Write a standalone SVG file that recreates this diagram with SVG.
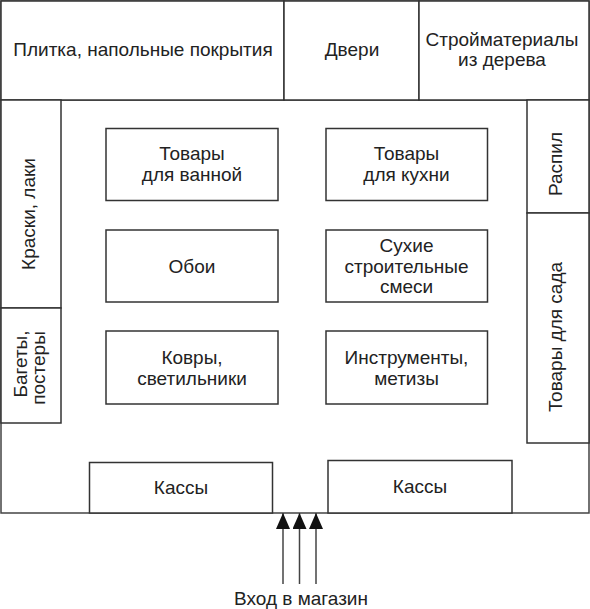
<svg xmlns="http://www.w3.org/2000/svg" width="590" height="609" viewBox="0 0 590 609">
<defs>
<style>
.b{fill:#fff;stroke:#333;stroke-width:1.5}
.l{fill:none;stroke:#444;stroke-width:1.5}
text{font-family:"Liberation Sans",Arial,sans-serif;font-size:19px;fill:#222;text-anchor:middle}
.ah{fill:#111}
</style>
<marker id="arr" viewBox="0 0 16 14" refX="16" refY="7" markerWidth="16" markerHeight="14" markerUnits="userSpaceOnUse" orient="auto">
<path d="M0,0 L16,7 L0,14 Z" class="ah"/>
</marker>
</defs>
<rect x="0" y="0" width="590" height="609" fill="#fff"/>
<g id="frame">
<path class="l" d="M1,513 L1,1 L589,1 L589,513 Z" stroke="#555"/>
<line x1="1" y1="100" x2="589" y2="100" class="l"/>
</g>
<g id="plitka"><rect class="b" x="1" y="1" width="283" height="99"/><text x="143" y="56">Плитка, напольные покрытия</text></g>
<g id="dveri"><rect class="b" x="284" y="1" width="135" height="99"/><text x="352" y="56">Двери</text></g>
<g id="stroymat"><rect class="b" x="419" y="1" width="170" height="99"/><text x="502" y="46">Стройматериалы</text><text x="502" y="66">из дерева</text></g>
<g id="kraski"><rect class="b" x="1" y="100" width="60" height="208"/><text transform="translate(34.5,214) rotate(-90)">Краски, лаки</text></g>
<g id="bagety"><rect class="b" x="1" y="308" width="60" height="115"/><text transform="translate(26.5,364) rotate(-90)">Багеты,</text><text transform="translate(45,368) rotate(-90)">постеры</text></g>
<g id="raspil"><rect class="b" x="527" y="100" width="62" height="113"/><text transform="translate(562,164) rotate(-90)">Распил</text></g>
<g id="sad"><rect class="b" x="527" y="213" width="62" height="230"/><text transform="translate(562,337) rotate(-90)">Товары для сада</text></g>
<g id="vannaya"><rect class="b" x="106" y="128.5" width="172" height="72"/><text x="192" y="160">Товары</text><text x="192" y="181">для ванной</text></g>
<g id="kuhnya"><rect class="b" x="326" y="128.5" width="161.5" height="72"/><text x="406.5" y="160">Товары</text><text x="406.5" y="181">для кухни</text></g>
<g id="oboi"><rect class="b" x="106" y="230" width="172" height="72"/><text x="192" y="273">Обои</text></g>
<g id="smesi"><rect class="b" x="326" y="230" width="161.5" height="72"/><text x="406.5" y="252">Сухие</text><text x="406.5" y="273">строительные</text><text x="406.5" y="293">смеси</text></g>
<g id="kovry"><rect class="b" x="106" y="331" width="172" height="73"/><text x="192" y="364">Ковры,</text><text x="192" y="385">светильники</text></g>
<g id="instr"><rect class="b" x="326" y="331" width="161.5" height="73"/><text x="406.5" y="364">Инструменты,</text><text x="406.5" y="385">метизы</text></g>
<g id="kassy1"><rect class="b" x="89.5" y="462.5" width="183" height="50.5"/><text x="181" y="494">Кассы</text></g>
<g id="kassy2"><rect class="b" x="328" y="460.5" width="184" height="52.5"/><text x="420" y="493">Кассы</text></g>
<g id="connectors">
<line class="l" x1="283" y1="584" x2="283" y2="513" stroke="#111" marker-end="url(#arr)"/>
<line class="l" x1="299.5" y1="584" x2="299.5" y2="513" stroke="#111" marker-end="url(#arr)"/>
<line class="l" x1="316" y1="584" x2="316" y2="513" stroke="#111" marker-end="url(#arr)"/>
</g>
<g id="vhod"><text x="301" y="605">Вход в магазин</text></g>
</svg>
